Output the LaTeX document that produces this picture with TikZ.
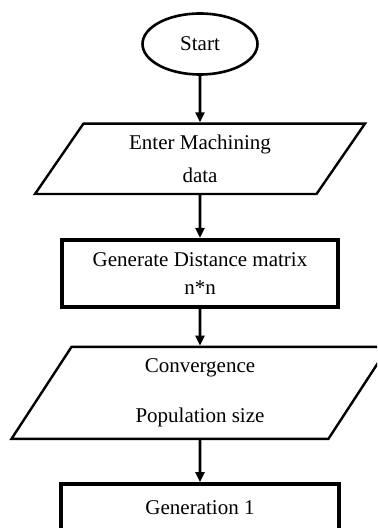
\documentclass[tikz,border=0pt]{standalone}
\usepackage{fontspec}
\setmainfont{Liberation Serif}
\usetikzlibrary{arrows.meta, positioning, shapes.geometric}

\begin{document}
\begin{tikzpicture}[
            x=0.5pt, y=-0.5pt,
            font=\fontsize{10.5}{12.6}\selectfont,
            startstop/.style={ellipse, draw=black, line width=1.3pt,
            minimum width=57.5pt, minimum height=30.5pt, inner sep=1pt},
            io/.style={trapezium, trapezium stretches body, draw=black,
            line width=1.2pt, minimum height=35.2pt, align=center, inner sep=1pt},
            process/.style={rectangle, draw=black, line width=2.2pt,
            minimum width=138pt, minimum height=33.5pt, align=center, inner sep=1pt},
            flow/.style={-{Triangle[length=5pt, width=4.5pt]}, line width=1.3pt}
        ]

% ----- Rahmen -----
            \useasboundingbox (0,0) rectangle (377,528);
            \clip (0,0) rectangle (377,528);

% ----- Knoten -----
            \node[startstop] (start) at (200,44) {Start};
            \node[io, trapezium left angle=47, trapezium right angle=133,
                  minimum width=165pt, below=23.3pt of start] (enter)
                  {Enter Machining\\[4pt]data};
            \node[process, below=21.3pt of enter] (dist)
                  {Generate Distance matrix\\[1.5pt]n*n};
            \node[io, trapezium left angle=50, trapezium right angle=130,
                  minimum width=188.5pt, minimum height=46pt, below=18.2pt of dist] (conv)
                  {Convergence\\[12pt]Population size};
            \node[process, minimum width=139pt, minimum height=0pt, inner ysep=5pt,
                  text height=10pt, text depth=20pt, below=21pt of conv] (gen1)
                  {Generation 1};

% ----- Kanten -----
            \draw[flow] (start) -- (enter);
            \draw[flow] (enter) -- (dist);
            \draw[flow] (dist) -- (conv);
            \draw[flow] (conv) -- (gen1);

        \end{tikzpicture}
\end{document}
